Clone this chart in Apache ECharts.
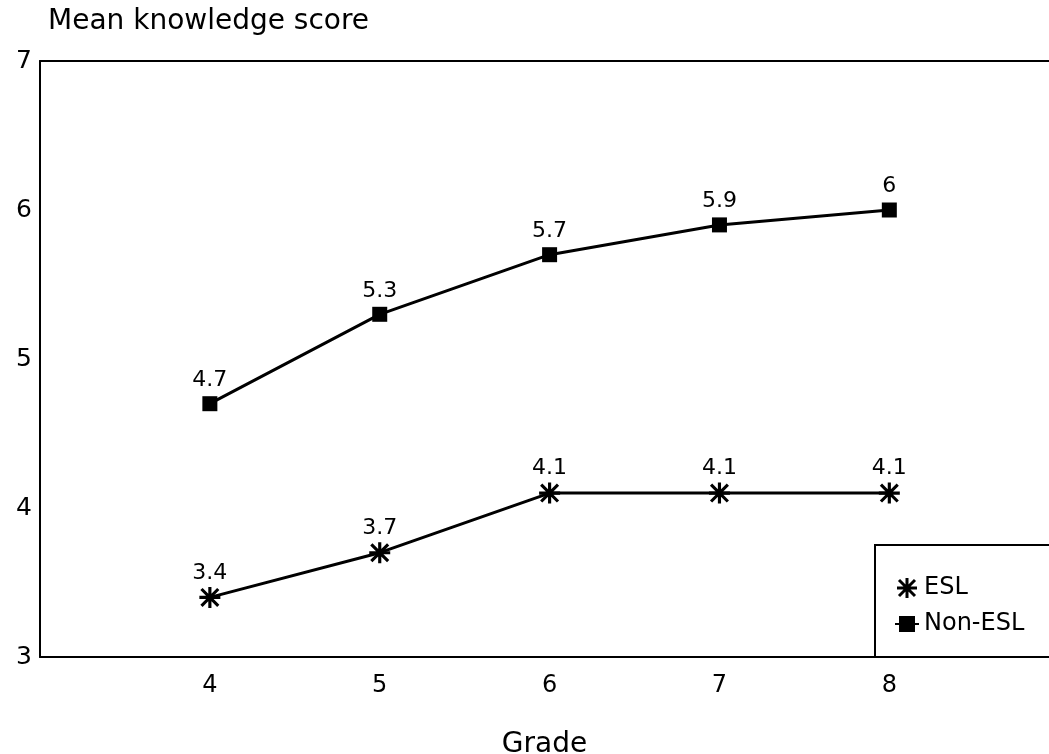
<!DOCTYPE html>
<html>
<head>
<meta charset="utf-8">
<script src="https://cdn.jsdelivr.net/npm/echarts@6/dist/echarts.min.js"></script>
<style>
  html, body { margin: 0; padding: 0; background: #fff; }
  #chart { width: 1049px; height: 754px; }
</style>
</head>
<body>
<div id="chart"></div>
<script>
const grades = [4, 5, 6, 7, 8]
const esl = [3.4, 3.7, 4.1, 4.1, 4.1]
const nonEsl = [4.7, 5.3, 5.7, 5.9, 6]
const yTicks = [3, 4, 5, 6, 7]

// asterisk marker like the scanned one
const star = 'path://M8.5,0 h3 v20 h-3 z M0,8.5 h20 v3 h-20 z M3.06,0.94 L19.06,16.94 L16.94,19.06 L0.94,3.06 z M16.94,0.94 L19.06,3.06 L3.06,19.06 L0.94,16.94 z'
const font = 'DejaVu Sans'

const chart = echarts.init(document.getElementById('chart'))
const option = {
    animation: false,
    textStyle: { fontFamily: font, color: '#000' },
    title: {
        text: 'Mean knowledge score',
        left: 48,
        top: 8,
        padding: 0,
        textStyle: { fontSize: 28, fontWeight: 'normal', color: '#000', fontFamily: font }
    },
    legend: {
        orient: 'vertical',
        left: 875,
        top: 545,
        padding: [31, 140, 21, 19],
        itemGap: 12,
        itemWidth: 24,
        itemHeight: 20,
        borderColor: '#000',
        borderWidth: 2,
        textStyle: { fontSize: 24, color: '#000', fontFamily: font },
        data: [
            { name: 'ESL', icon: star },
            { name: 'Non-ESL' }
        ]
    },
    grid: { left: 40, top: 61, right: 0, bottom: 97, outerBoundsMode: 'none', containLabel: false },
    xAxis: [
        {
            type: 'value',
            min: 3,
            max: 8.94,
            interval: 1,
            axisLine: { show: true, lineStyle: { color: '#000', width: 2 } },
            axisTick: { show: false },
            splitLine: { show: false },
            axisLabel: {
                fontSize: 24,
                color: '#000',
                margin: 17,
                formatter(v) { return grades.includes(v) ? String(v) : '' }
            },
            name: 'Grade',
            nameLocation: 'middle',
            nameGap: 74,
            nameTextStyle: { fontSize: 28, color: '#000' }
        },
        {
            type: 'value',
            position: 'top',
            min: 3,
            max: 8.94,
            axisLine: { show: true, lineStyle: { color: '#000', width: 2 } },
            axisTick: { show: false },
            axisLabel: { show: false },
            splitLine: { show: false }
        }
    ],
    yAxis: {
        type: 'value',
        min: yTicks[0],
        max: yTicks[yTicks.length - 1],
        interval: 1,
        axisLine: { show: true, lineStyle: { color: '#000', width: 2 } },
        axisTick: { show: false },
        splitLine: { show: false },
        axisLabel: { fontSize: 25, color: '#000', margin: 8 }
    },
    series: [
        {
            name: 'ESL',
            type: 'line',
            data: grades.map((g, i) => [g, esl[i]]),
            symbol: star,
            symbolSize: 21,
            itemStyle: { color: '#000' },
            lineStyle: { color: '#000', width: 3 },
            label: { show: true, position: 'top', distance: 3, fontSize: 22, color: '#000',
                formatter: p => String(p.value[1]) }
        },
        {
            name: 'Non-ESL',
            type: 'line',
            data: grades.map((g, i) => [g, nonEsl[i]]),
            symbol: 'rect',
            symbolSize: 15,
            itemStyle: { color: '#000' },
            lineStyle: { color: '#000', width: 3 },
            label: { show: true, position: 'top', distance: 5, fontSize: 22, color: '#000',
                formatter: p => String(p.value[1]) }
        }
    ]
}
chart.setOption(option)
</script>
</body>
</html>
